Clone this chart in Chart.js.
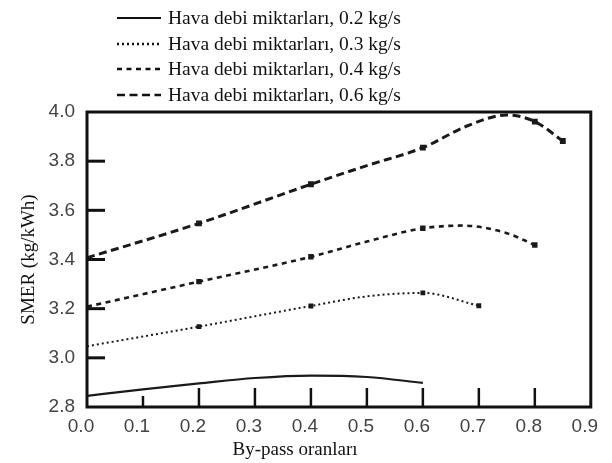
<!DOCTYPE html>
<html>
<head>
<meta charset="utf-8">
<script src="https://cdn.jsdelivr.net/npm/chart.js@4/dist/chart.umd.min.js"></script>
<style>
  html, body { margin: 0; padding: 0; background: #fff; }
  #wrap { position: relative; width: 612px; height: 463px; }
  #legend {
    position: absolute; left: 117px; top: 5px;
    font-family: "Liberation Serif", serif; font-size: 19.5px; color: #111;
  }
  .row { display: flex; align-items: center; height: 25.7px; white-space: nowrap; }
  .row svg { margin-right: 7px; }
  #xTitle {
    position: absolute; left: 0; width: 590px; top: 438px; text-align: center;
    font-family: "Liberation Serif", serif; font-size: 19px; color: #111;
  }
</style>
</head>
<body>
<div id="wrap">
  <canvas id="chart" width="612" height="463"></canvas>
  <div id="legend"></div>
  <div id="xTitle">By-pass oranları</div>
</div>
<script>
// tick values
const xTickValues = [0, 0.1, 0.2, 0.3, 0.4, 0.5, 0.6, 0.7, 0.8, 0.9];
const yTickValues = [2.8, 3.0, 3.2, 3.4, 3.6, 3.8, 4.0];

const seriesLabels = [
  "Hava debi miktarları, 0.2 kg/s",
  "Hava debi miktarları, 0.3 kg/s",
  "Hava debi miktarları, 0.4 kg/s",
  "Hava debi miktarları, 0.6 kg/s",
];

// 0.2 kg/s
const bypass02 = [0, 0.1, 0.2, 0.3, 0.4, 0.5, 0.6];
const smer02 = [2.845, 2.872, 2.896, 2.918, 2.928, 2.922, 2.898];
// 0.3 kg/s
const bypass03 = [0, 0.2, 0.4, 0.5, 0.6, 0.7];
const smer03 = [3.047, 3.127, 3.211, 3.25, 3.264, 3.212];
// 0.4 kg/s
const bypass04 = [0, 0.2, 0.4, 0.5, 0.6, 0.67, 0.75, 0.8];
const smer04 = [3.208, 3.31, 3.411, 3.473, 3.527, 3.538, 3.507, 3.459];
// 0.6 kg/s
const bypass06 = [0, 0.2, 0.4, 0.5, 0.6, 0.68, 0.75, 0.8, 0.85];
const smer06 = [3.407, 3.547, 3.706, 3.782, 3.855, 3.944, 3.988, 3.961, 3.882];

const markerX = [0.2, 0.4, 0.6, 0.8];

const lineStyles = [
  { dash: [], width: 2.2, markers: false },
  { dash: [2, 3], width: 2, markers: true },
  { dash: [5, 4.5], width: 2.6, markers: true },
  { dash: [8, 4.5], width: 3, markers: true },
];

const xs = [bypass02, bypass03, bypass04, bypass06];
const ys = [smer02, smer03, smer04, smer06];

const datasets = seriesLabels.map((label, i) => ({
  label: label,
  data: xs[i].map((x, j) => ({ x: x, y: ys[i][j] })),
  borderColor: "#1a1a1a",
  backgroundColor: "#1a1a1a",
  borderWidth: lineStyles[i].width,
  borderDash: lineStyles[i].dash,
  cubicInterpolationMode: "monotone",
  pointStyle: "rect",
  pointRadius: (ctx) => {
    if (!lineStyles[i].markers) return 0;
    const last = ctx.dataIndex === xs[i].length - 1;
    return last || markerX.includes(ctx.raw.x) ? 2 : 0;
  },
  fill: false,
}));

// legend in html
const legend = document.getElementById("legend");
seriesLabels.forEach((label, i) => {
  const row = document.createElement("div");
  row.className = "row";
  const dash = lineStyles[i].dash.join(" ");
  row.innerHTML =
    '<svg width="44" height="8"><line x1="0" y1="4" x2="44" y2="4" stroke="#111" stroke-width="' +
    (i === 0 ? 2.2 : 2.4) + '"' + (dash ? ' stroke-dasharray="' + dash + '"' : "") +
    "/></svg><span>" + label + "</span>";
  legend.appendChild(row);
});

// frame and inner ticks
const framePlugin = {
  id: "frame",
  afterDatasetsDraw(chart) {
    const { ctx, chartArea: a, scales } = chart;
    ctx.save();
    ctx.strokeStyle = "#111";
    ctx.lineWidth = 3;
    ctx.strokeRect(a.left, a.top, a.right - a.left, a.bottom - a.top);
    yTickValues.slice(1, -1).forEach((v) => {
      const py = scales.y.getPixelForValue(v);
      ctx.beginPath();
      ctx.moveTo(a.left, py);
      ctx.lineTo(a.left + 18, py);
      ctx.stroke();
    });
    ctx.lineWidth = 2.5;
    xTickValues.slice(1, -1).forEach((v, k) => {
      const px = scales.x.getPixelForValue(v);
      ctx.beginPath();
      ctx.moveTo(px, a.bottom);
      ctx.lineTo(px, a.bottom - (k === 0 ? 11 : 19));
      ctx.stroke();
    });
    ctx.restore();
  },
};

const tickFont = { family: "'Liberation Sans', sans-serif", size: 19 };

new Chart(document.getElementById("chart").getContext("2d"), {
  type: "line",
  data: { datasets: datasets },
  options: {
    responsive: false,
    animation: false,
    layout: { padding: { top: 112, right: 14, left: 0, bottom: 0 } },
    plugins: { legend: { display: false }, tooltip: { enabled: false } },
    scales: {
      x: {
        type: "linear",
        min: 0,
        max: 0.9,
        afterBuildTicks: (s) => { s.ticks = xTickValues.map((v) => ({ value: v })); },
        afterFit: (s) => { s.height = 56; },
        grid: { display: false, drawTicks: false },
        border: { display: false },
        ticks: {
          padding: 8,
          labelOffset: -6,
          color: "#444",
          font: tickFont,
          callback: (v) => Number(v).toFixed(1),
        },
      },
      y: {
        type: "linear",
        min: 2.8,
        max: 4.0,
        afterBuildTicks: (s) => { s.ticks = yTickValues.map((v) => ({ value: v })); },
        afterFit: (s) => { s.width = 87; },
        grid: { display: false, drawTicks: false },
        border: { display: false },
        ticks: {
          padding: 12,
          color: "#444",
          font: tickFont,
          callback: (v) => Number(v).toFixed(1),
        },
        title: {
          display: true,
          text: "SMER (kg/kWh)",
          color: "#111",
          font: { family: "'Liberation Serif', serif", size: 19 },
          padding: { top: 18, bottom: 0 },
        },
      },
    },
  },
  plugins: [framePlugin],
});
</script>
</body>
</html>
